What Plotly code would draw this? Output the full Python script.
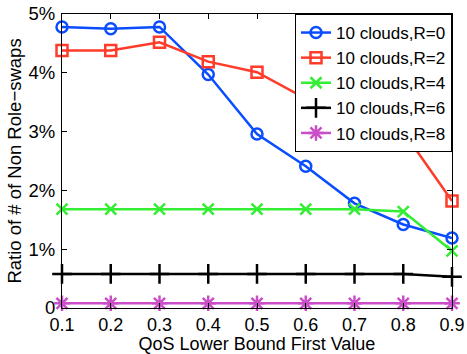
import plotly.graph_objects as go

x_vals = [0.1, 0.2, 0.3, 0.4, 0.5, 0.6, 0.7, 0.8, 0.9]
r0 = [4.78, 4.75, 4.78, 3.97, 2.96, 2.41, 1.78, 1.42, 1.19]
r2 = [4.38, 4.38, 4.52, 4.19, 4.01, 3.56, 3.30, 3.00, 1.82]
r4 = [1.68, 1.68, 1.68, 1.68, 1.68, 1.68, 1.68, 1.64, 0.97]
r6 = [0.58, 0.58, 0.58, 0.58, 0.58, 0.58, 0.58, 0.58, 0.53]
r8 = [0.08, 0.08, 0.08, 0.08, 0.08, 0.08, 0.08, 0.08, 0.08]
names = ["10 clouds,R=0", "10 clouds,R=2", "10 clouds,R=4", "10 clouds,R=6", "10 clouds,R=8"]
y_ticks = [0, 1, 2, 3, 4, 5]
y_tick_text = ["0", "1%", "2%", "3%", "4%", "5%"]

series = [r0, r2, r4, r6, r8]
colors = ["#0a4dff", "#ff3b2a", "#33ee33", "#000000", "#c94fc9"]
symbols = ["circle-open", "square-open", "x-thin-open", "cross-thin-open", "asterisk-open"]
sizes = [11, 11, 11, 14, 13]

fig = go.Figure()
for i, (ys, nm, c, s, sz) in enumerate(zip(series, names, colors, symbols, sizes)):
    fig.add_trace(go.Scatter(
        x=x_vals, y=ys, name=nm, mode="lines+markers", legendgroup=f"g{i}",
        line=dict(color=c, width=2.5),
        marker=dict(symbol=s, size=sz, color=c, line=dict(color=c, width=2.5)),
        cliponaxis=False,
    ))

font = "Liberation Sans, Arial, sans-serif"
fig.update_layout(
    width=467, height=354,
    margin=dict(l=62, r=15, t=14, b=46, autoexpand=False),
    paper_bgcolor="white", plot_bgcolor="white",
    font=dict(family=font, size=18, color="black"),
    showlegend=True,
    legend=dict(x=1, y=1, xanchor="right", yanchor="top",
                bgcolor="white", bordercolor="black", borderwidth=1,
                font=dict(size=17), tracegroupgap=0,
                itemwidth=30),
)
fig.update_xaxes(
    range=[0.1, 0.9], tickvals=x_vals, ticktext=[str(v) for v in x_vals],
    ticks="inside", ticklen=5, tickcolor="black", ticklabelstandoff=0,
    tickfont=dict(size=18),
    showline=True, linecolor="black", linewidth=1, mirror="ticks",
    showgrid=False, zeroline=False, automargin=False,
    title=dict(text="QoS Lower Bound First Value", standoff=2, font=dict(size=18)),
)
fig.update_yaxes(
    range=[0, 5], tickvals=y_ticks, ticktext=y_tick_text,
    ticks="inside", ticklen=5, tickcolor="black", ticklabelstandoff=2,
    tickfont=dict(size=18.5),
    showline=True, linecolor="black", linewidth=1, mirror="ticks",
    showgrid=False, zeroline=False, automargin=False,
    title=dict(text="Ratio of # of Non Role\u2212swaps", standoff=2, font=dict(size=18.5)),
)

fig.write_html("out.html")
